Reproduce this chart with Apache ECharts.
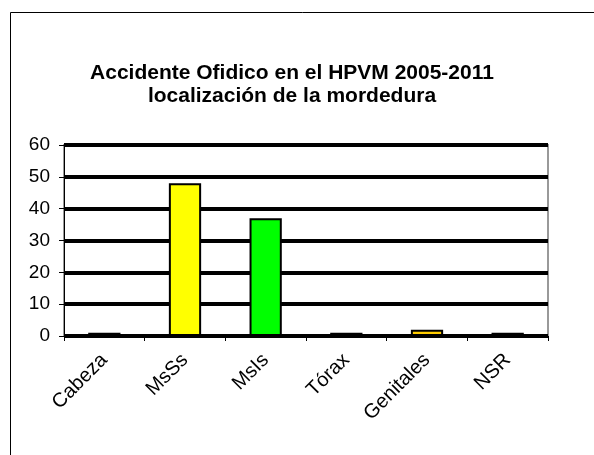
<!DOCTYPE html>
<html><head><meta charset="utf-8">
<script src="https://cdn.jsdelivr.net/npm/echarts@6/dist/echarts.min.js"></script>
<style>html,body{margin:0;padding:0;background:#fff}#c{width:594px;height:455px}</style>
</head><body><div id="c"></div>
<script>
const categories = ['Cabeza', 'MsSs', 'MsIs', 'Tórax', 'Genitales', 'NSR'];
const values = [1, 48, 37, 1, 2, 1];
const barColors = ['#993366', '#FFFF00', '#00FF00', '#800080', '#FFCC00', '#800000'];
const titleLines = ['Accidente Ofidico en el HPVM 2005-2011', 'localización de la mordedura'];

const chart = echarts.init(document.getElementById('c'));
chart.setOption({
  animation: false,
  backgroundColor: '#fff',
  textStyle: { fontFamily: 'Liberation Sans, Arial, sans-serif' },
  title: {
    text: titleLines.join('\n'),
    left: 287, top: 57, textAlign: 'center',
    textStyle: { fontSize: 21, fontWeight: 'bold', color: '#000', lineHeight: 23, fontFamily: 'Liberation Sans, Arial, sans-serif' }
  },
  graphic: [{
    type: 'polyline', silent: true,
    shape: { points: [[10.5, 455], [10.5, 12.5], [594, 12.5]] },
    style: { stroke: '#000', lineWidth: 1, fill: null }
  }],
  grid: { left: 64, right: 46, top: 145, bottom: 119, show: true, borderColor: '#999', borderWidth: 2 },
  xAxis: {
    type: 'category', data: categories,
    axisLine: { lineStyle: { color: '#000', width: 1 } },
    axisTick: { show: true, alignWithLabel: false, length: 5, lineStyle: { color: '#000' } },
    axisLabel: { rotate: 45, fontSize: 20, color: '#000', margin: 21, interval: 0 }
  },
  yAxis: {
    type: 'value', min: 0, max: 60, interval: 10,
    axisLine: { show: true, lineStyle: { color: '#000', width: 1 } },
    axisTick: { show: true, length: 5, lineStyle: { color: '#000' } },
    axisLabel: { fontSize: 19, color: '#000', margin: 14 },
    splitLine: { lineStyle: { color: '#000', width: 4 } }
  },
  series: [{
    type: 'bar', barWidth: '40%',
    data: values.map((v, i) => ({ value: v, itemStyle: { color: barColors[i] } })),
    itemStyle: { borderColor: '#000', borderWidth: 2 }
  }]
});
</script></body></html>
